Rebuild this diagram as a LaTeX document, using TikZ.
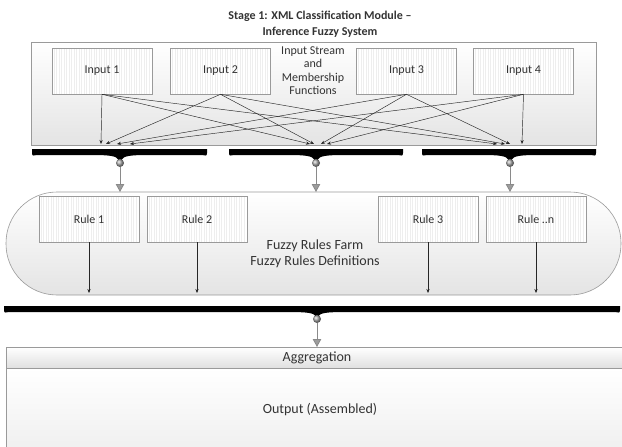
\documentclass[tikz,border=0pt]{standalone}
\usepackage{fontspec}
\setmainfont{Carlito}
\usetikzlibrary{arrows.meta,shadings,calc}
\definecolor{boxline}{HTML}{9A9A9A}
\definecolor{txt}{HTML}{333333}
\definecolor{stripe}{HTML}{EEEEEE}
\definecolor{garrow}{HTML}{8A8A8A}
\definecolor{panelbot}{HTML}{E4E4E4}
\newcommand\fuzzybar[5]{%
  \fill[black] (#1,#4) -- (#2,#4) -- (#2,#4+4)
    .. controls (#2,#4+8) and (#2-2,#4+6) .. (#2-6,#4+6)
    -- (#3+28,#4+6) .. controls (#3+10,#4+6) and (#3+3,#4+7) .. (#3+1.5,#5)
    -- (#3-1.5,#5) .. controls (#3-3,#4+7) and (#3-10,#4+6) .. (#3-28,#4+6)
    -- (#1+6,#4+6) .. controls (#1+2,#4+6) and (#1,#4+8) .. (#1,#4+4) -- cycle;}
\begin{document}
\begin{tikzpicture}[x=1pt,y=-1pt,
  font=\fontsize{12}{14}\selectfont, text=txt,
  panel/.style={draw=boxline, line width=0.6pt, top color=white, bottom color=panelbot, inner sep=0pt},
  itembox/.style={draw=boxline, line width=0.6pt, fill=white, minimum width=100pt, minimum height=46pt, inner sep=0pt,
    path picture={\foreach \i in {2,4.5,...,98}{\draw[stripe,line width=0.35pt]
      ([xshift=\i pt]path picture bounding box.north west) -- ([xshift=\i pt]path picture bounding box.south west);}}},
  arr/.style={draw=black!85, line width=0.45pt, -{Stealth[length=4pt,width=3.2pt]}},
  garr/.style={draw=garrow, line width=0.8pt, -{Triangle[length=8pt,width=8.5pt,color=garrow,fill=garrow!85]}},
  ballnode/.style={circle, minimum size=8pt, inner sep=0pt, shading=ball, ball color=gray!70},
  label/.style={align=center, inner sep=0pt}]
\useasboundingbox (0,0) rectangle (622,447);
\clip (0,0) rectangle (622,447);

% title
\node[label, font=\fontsize{12}{16.5}\selectfont\bfseries] (title) at (320,24) {Stage 1: XML Classification Module –\\Inference Fuzzy System};

% input panel
\node[panel, minimum width=565pt, minimum height=103pt] (inputs) at (313.5,93.5) {};
\node[label, font=\fontsize{12}{13.5}\selectfont] (stream) at (313,70.5) {Input Stream\\and\\Membership\\Functions};
\node[itembox] (in1) at (102,71) {Input 1};
\node[itembox] (in2) at (220.5,71) {Input 2};
\node[itembox] (in3) at (406.5,71) {Input 3};
\node[itembox] (in4) at (523.5,71) {Input 4};

% arrow targets
\coordinate (t11) at (101,144); \coordinate (t21) at (106,144); \coordinate (t31) at (117,144); \coordinate (t41) at (130,144);
\coordinate (t12) at (310,144); \coordinate (t22) at (314,144); \coordinate (t32) at (321,144); \coordinate (t42) at (327,144);
\coordinate (t13) at (497,144); \coordinate (t23) at (505,144); \coordinate (t33) at (510,144); \coordinate (t43) at (522,144);
\foreach \s in {1,2,3,4}{\foreach \g in {1,2,3}{\draw[arr] (in\s.south) -- (t\s\g);}}

% group bars
\fuzzybar{32}{207}{120}{149}{160}
\fuzzybar{229}{403}{316}{149}{160}
\fuzzybar{422}{596}{510}{149}{160}
\node[ballnode] (b1) at (120,163) {};
\node[ballnode] (b2) at (316,163) {};
\node[ballnode] (b3) at (510,163) {};

% rules panel
\node[panel, rounded corners=51pt, minimum width=615pt, minimum height=103pt] (rules) at (313.5,243.5) {};
\coordinate (a1) at (120,192); \coordinate (a2) at (316,192); \coordinate (a3) at (510,192);
\draw[garr] (b1) -- (a1);
\draw[garr] (b2) -- (a2);
\draw[garr] (b3) -- (a3);
\node[itembox] (r1) at (89,219) {Rule 1};
\node[itembox] (r2) at (197,219) {Rule 2};
\node[itembox] (r3) at (428,219) {Rule 3};
\node[itembox] (r4) at (536,219) {Rule ..n};
\node[label, font=\fontsize{14}{16}\selectfont] (farm) at (315,254) {Fuzzy Rules Farm\\Fuzzy Rules Definitions};
\coordinate (e1) at (89,293); \coordinate (e2) at (197,293); \coordinate (e3) at (428,293); \coordinate (e4) at (536,293);
\foreach \k in {1,2,3,4}{\draw[arr] (r\k.south) -- (e\k);}

% aggregation bar
\fuzzybar{4}{620}{317}{306}{316}
\node[ballnode] (b4) at (317,319) {};

% aggregation and output
\node[panel, bottom color=gray!25, minimum width=622pt, minimum height=21pt, anchor=north west] (agg) at (6,347) {};
\node[label, font=\fontsize{14}{16}\selectfont] (aggtext) at (317,358) {Aggregation};
\coordinate (a4) at (317,347);
\draw[garr] (b4) -- (a4);
\node[panel, bottom color=gray!12, minimum width=622pt, minimum height=82pt, anchor=north west] (out) at (6,368) {};
\node[label, font=\fontsize{14}{16}\selectfont] (outtext) at (320,410) {Output (Assembled)};
\end{tikzpicture}
\end{document}
